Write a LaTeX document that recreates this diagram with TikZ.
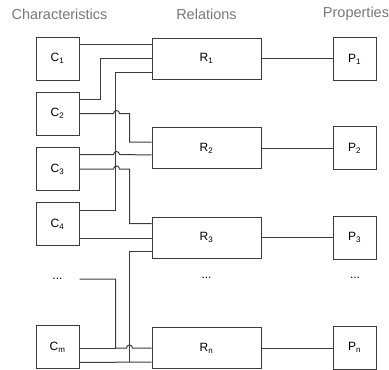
\documentclass[tikz,border=0pt]{standalone}
\usepackage{fontspec}
\setmainfont{Liberation Sans}
\usetikzlibrary{calc}
\definecolor{linegray}{RGB}{60,60,60}
\definecolor{headgray}{RGB}{120,120,120}

\tikzset{
    charbox/.style={draw=linegray, minimum width=43pt, minimum height=43pt, inner sep=0pt, font=\fontsize{12}{14}\selectfont},
    relbox/.style={draw=linegray, minimum width=109pt, minimum height=41pt, inner sep=0pt, font=\fontsize{12}{14}\selectfont},
    propbox/.style={draw=linegray, minimum width=43pt, minimum height=43pt, inner sep=0pt, font=\fontsize{12}{14}\selectfont},
    heading/.style={text=headgray, inner sep=0pt, font=\fontsize{14.5}{16}\selectfont},
    gap/.style={inner sep=0pt, font=\fontsize{12}{14}\selectfont},
    wire/.style={draw=linegray, line width=1pt}
}

\begin{document}
\begin{tikzpicture}[x=1pt,y=-1pt,line width=1pt]
            \useasboundingbox (0,0) rectangle (389,370);

            % column headings
            \node[heading] (hchar) at (59.5,14) {Characteristics};
            \node[heading] (hrel) at (206.5,14) {Relations};
            \node[heading] (hprop) at (356,14) {Properties};

            % characteristics
            \node[charbox] (C1) at (57.5,58.5) {C\textsubscript{1}};
            \node[charbox] (C2) at (57.5,113.5) {C\textsubscript{2}};
            \node[charbox] (C3) at (57.5,169) {C\textsubscript{3}};
            \node[charbox] (C4) at (57.5,224) {C\textsubscript{4}};
            \node[gap] (cdots) at (57.5,279) {...};
            \node[charbox] (Cm) at (57.5,347) {C\textsubscript{m}};

            % relations
            \node[relbox] (R1) at (206.5,58.5) {R\textsubscript{1}};
            \node[relbox] (R2) at (206.5,148) {R\textsubscript{2}};
            \node[relbox] (R3) at (206.5,237.5) {R\textsubscript{3}};
            \node[gap] (rdots) at (206.5,278) {...};
            \node[relbox] (Rn) at (206.5,348) {R\textsubscript{n}};

            % properties
            \node[propbox] (P1) at (354.5,59) {P\textsubscript{1}};
            \node[propbox] (P2) at (354.5,148) {P\textsubscript{2}};
            \node[propbox] (P3) at (354.5,237.5) {P\textsubscript{3}};
            \node[gap] (pdots) at (355,278) {...};
            \node[propbox] (Pn) at (354.5,347.5) {P\textsubscript{n}};

            % relations to properties
            \foreach \i in {1,2,3,n}
                \draw[wire] (R\i.east) -- (R\i.east -| P\i.west);

            % C1, C2, C4 to R1
            \draw[wire] ($(C1.north east)+(0,8)$) -- ($(R1.north west)+(0,7)$);
            \draw[wire] ($(C2.north east)+(0,8)$) -| ($(R1.west)+(-51,0)$) -- (R1.west);
            \draw[wire] ($(C4.north east)+(0,8)$) -| ($(R1.south west)+(-36,-7)$) -- ($(R1.south west)+(0,-7)$);

            % C2, C3 to R2 (hops over the C4 line)
            \draw[wire] (C2.east) -- ++(34,0) arc[start angle=180, end angle=0, radius=3pt]
                -| ($(R2.north west)+(-22,15)$) -- ($(R2.north west)+(0,15)$);
            \draw[wire] ($(C3.north east)+(0,7.5)$) -- ++(34,0) arc[start angle=180, end angle=0, radius=3pt]
                -- ($(R2.north west)+(0,28)$);

            % C3, C4, Cm to R3
            \draw[wire] (C3.east) -- ++(34,0) arc[start angle=180, end angle=0, radius=3pt]
                -| ($(R3.north west)+(-22,7)$) -- ($(R3.north west)+(0,7)$);
            \draw[wire] ($(C4.south east)+(0,-7.5)$) -- ($(R3.south west)+(0,-20)$);
            \draw[wire] ($(R3.south west)+(0,-7)$) -| ($(Rn.south west)+(-22,-7)$);

            % dots and Cm to Rn
            \draw[wire] (C4.east |- cdots) -| ($(Rn.west)+(-36,0)$) -- ++(11,0)
                arc[start angle=180, end angle=0, radius=3pt] -- (Rn.west);
            \draw[wire] (Cm.east |- Rn.west) -- ($(Rn.west)+(-36,0)$);
            \draw[wire] ($(Cm.south east)+(0,-6.5)$) -- ($(Rn.south west)+(0,-7)$);
\end{tikzpicture}
\end{document}
